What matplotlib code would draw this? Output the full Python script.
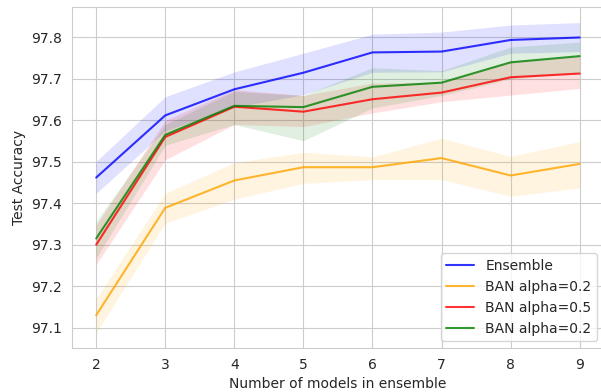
import matplotlib
matplotlib.use("Agg")
import matplotlib.pyplot as plt
import seaborn as sns

n_models = [2, 3, 4, 5, 6, 7, 8, 9]

ensemble = [97.462, 97.612, 97.675, 97.715, 97.764, 97.766, 97.794, 97.800]
ensemble_lo = [97.424, 97.575, 97.632, 97.662, 97.716, 97.717, 97.762, 97.766]
ensemble_hi = [97.501, 97.657, 97.717, 97.762, 97.808, 97.813, 97.830, 97.836]

ban02 = [97.130, 97.389, 97.455, 97.487, 97.487, 97.509, 97.467, 97.495]
ban02_lo = [97.088, 97.352, 97.410, 97.448, 97.457, 97.457, 97.417, 97.437]
ban02_hi = [97.170, 97.424, 97.498, 97.523, 97.512, 97.557, 97.513, 97.549]

ban05 = [97.300, 97.560, 97.633, 97.621, 97.651, 97.667, 97.704, 97.713]
ban05_lo = [97.252, 97.505, 97.590, 97.585, 97.618, 97.645, 97.661, 97.677]
ban05_hi = [97.347, 97.600, 97.674, 97.660, 97.690, 97.692, 97.743, 97.755]

ban02b = [97.315, 97.565, 97.635, 97.632, 97.681, 97.691, 97.740, 97.755]
ban02b_lo = [97.268, 97.540, 97.590, 97.551, 97.630, 97.660, 97.700, 97.715]
ban02b_hi = [97.356, 97.590, 97.670, 97.660, 97.727, 97.720, 97.777, 97.789]

series = [
    ("Ensemble", "blue", ensemble, ensemble_lo, ensemble_hi),
    ("BAN alpha=0.2", "orange", ban02, ban02_lo, ban02_hi),
    ("BAN alpha=0.5", "red", ban05, ban05_lo, ban05_hi),
    ("BAN alpha=0.2", "green", ban02b, ban02b_lo, ban02b_hi),
]

sns.set_style("whitegrid")
plt.rcParams["font.family"] = ["DejaVu Sans"]

fig = plt.figure(figsize=(6.01, 3.92), dpi=100)
ax = fig.add_axes([0.1198, 0.112, 0.885, 0.87])

for label, color, mean, lo, hi in series:
    ax.plot(n_models, mean, color=color, alpha=0.8, lw=1.5, label=label)
    ax.fill_between(n_models, lo, hi, color=color, alpha=0.12, lw=0)

ax.set_xlabel("Number of models in ensemble", fontsize=10, color=".15")
ax.set_ylabel("Test Accuracy", fontsize=10, color=".15")
ax.tick_params(labelsize=10, colors=".15")
ax.legend(loc="lower right", fontsize=10)

fig.savefig("out.png", dpi=100)
